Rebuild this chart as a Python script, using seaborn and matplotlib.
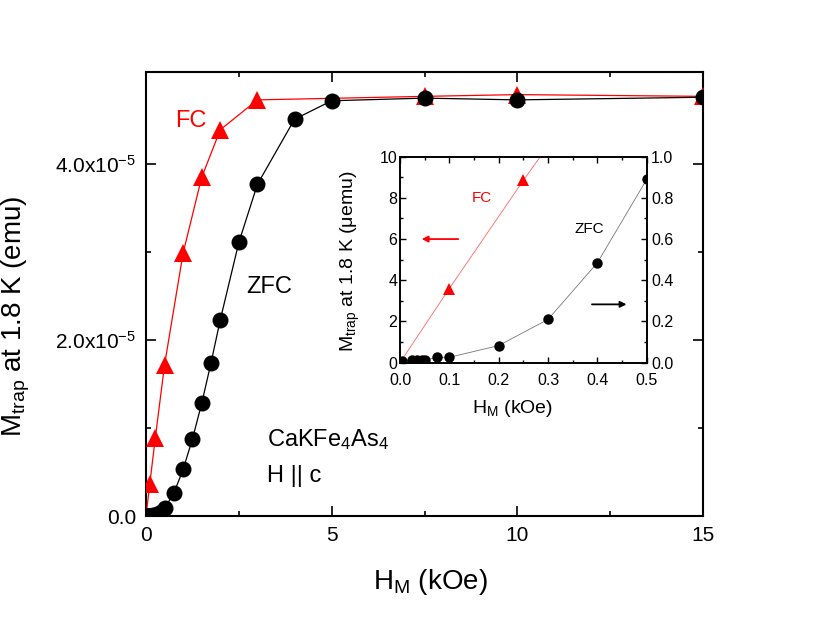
import matplotlib
matplotlib.use("Agg")
import matplotlib.pyplot as plt
import seaborn as sns
import numpy as np
from matplotlib.ticker import MultipleLocator, FixedLocator, FuncFormatter

# ---------------- data (H in kOe, M in micro-emu) ----------------
zfc_h = [0.005, 0.025, 0.035, 0.045, 0.05, 0.075, 0.1, 0.2, 0.3, 0.4, 0.5,
         0.75, 1.0, 1.25, 1.5, 1.75, 2.0, 2.5, 3.0, 4.0, 5.0, 7.5, 10.0, 15.0]
zfc_m_uemu = [0.01, 0.013, 0.013, 0.013, 0.013, 0.026, 0.026, 0.083, 0.21, 0.485, 0.89,
              2.6, 5.3, 8.75, 12.8, 17.4, 22.3, 31.1, 37.7, 45.1, 47.2, 47.5, 47.3, 47.6]
fc_h = [0.0, 0.1, 0.25, 0.5, 1.0, 1.5, 2.0, 3.0, 7.5, 10.0, 15.0]
fc_m_uemu = [0.0, 3.6, 8.85, 17.2, 29.9, 38.5, 43.9, 47.3, 47.7, 47.9, 47.7]

main_yticks = [0.0, 2.0e-5, 4.0e-5]
main_xticks = [0, 5, 10, 15]

zfc_m = [v * 1e-6 for v in zfc_m_uemu]
fc_m = [v * 1e-6 for v in fc_m_uemu]

sns.set_theme(style="ticks")
plt.rcParams["font.family"] = ["Liberation Sans", "DejaVu Sans"]
plt.rcParams["mathtext.fontset"] = "custom"
plt.rcParams["mathtext.rm"] = "Liberation Sans"
plt.rcParams["mathtext.it"] = "Liberation Sans:italic"
plt.rcParams["mathtext.bf"] = "Liberation Sans:bold"
plt.rcParams["axes.linewidth"] = 1.5
for k in ("text.color", "axes.labelcolor", "xtick.color", "ytick.color",
          "xtick.labelcolor", "ytick.labelcolor", "axes.edgecolor"):
    plt.rcParams[k] = "black"

fig = plt.figure(figsize=(8.17, 6.21), dpi=100)
ax = fig.add_axes([0.1787, 0.169, 0.6818, 0.7155])

sns.lineplot(x=fc_h, y=fc_m, ax=ax, color="red", marker="^", markersize=12.5,
             markeredgewidth=0, linewidth=0.9, sort=False, estimator=None, zorder=3)
sns.lineplot(x=zfc_h, y=zfc_m, ax=ax, color="black", marker="o", markersize=11.5,
             markeredgewidth=0, linewidth=0.9, sort=False, estimator=None, zorder=4)

ax.set_xlim(0, 15)
ax.set_ylim(0, 5.05e-5)
ax.xaxis.set_major_locator(FixedLocator(main_xticks))
ax.xaxis.set_minor_locator(MultipleLocator(2.5))
ax.yaxis.set_major_locator(FixedLocator(main_yticks))
ax.yaxis.set_minor_locator(FixedLocator([1.0e-5, 3.0e-5]))

def yfmt(v, pos):
    if abs(v) < 1e-12:
        return "0.0"
    return r"%.1fx10$^{\mathrm{-5}}$" % (v / 1e-5)

ax.yaxis.set_major_formatter(FuncFormatter(yfmt))
ax.tick_params(which="both", direction="in", top=True, right=True, width=1.2,
               labelsize=15, colors="black")
ax.tick_params(which="major", length=7, pad=7)
ax.tick_params(which="minor", length=3.5)
for s in ax.spines.values():
    s.set_linewidth(1.5)
    s.set_color("black")

ax.set_xlabel(r"H$_\mathrm{M}$ (kOe)", fontsize=20, color="black")
ax.set_ylabel(r"M$_\mathrm{trap}$ at 1.8 K (emu)", fontsize=20, color="black")
ax.xaxis.set_label_coords(0.51, -0.115)
ax.yaxis.set_label_coords(-0.205, 0.45)

ax.text(0.78, 4.42e-5, "FC", color="red", fontsize=17, ha="left", va="baseline")
ax.text(2.71, 2.53e-5, "ZFC", color="black", fontsize=17, ha="left", va="baseline")
ax.text(3.25, 7.9e-6, r"CaKFe$_\mathrm{4}$As$_\mathrm{4}$", color="black", fontsize=17,
        ha="left", va="baseline")
ax.text(3.25, 3.9e-6, "H || c", color="black", fontsize=17, ha="left", va="baseline")

# ---------------- inset ----------------
axi = fig.add_axes([0.4896, 0.416, 0.302, 0.3317])
axi.set_facecolor("white")
sns.lineplot(x=fc_h, y=fc_m_uemu, ax=axi, color="#ff6666", marker="^", markersize=8.5,
             markeredgewidth=0, markerfacecolor="red", linewidth=0.6, sort=False, estimator=None)
axi.set_xlim(0, 0.5)
axi.set_ylim(0, 10)

axr = axi.twinx()
sns.lineplot(x=zfc_h, y=zfc_m_uemu, ax=axr, color="#777777", marker="o", markersize=7.5,
             markeredgewidth=0, markerfacecolor="black", linewidth=0.6, sort=False, estimator=None)
axr.set_ylim(0, 1.0)
axr.set_xlim(0, 0.5)

axi.xaxis.set_major_locator(MultipleLocator(0.1))
axi.xaxis.set_minor_locator(MultipleLocator(0.05))
axi.yaxis.set_major_locator(MultipleLocator(2))
axi.yaxis.set_minor_locator(MultipleLocator(1))
axr.yaxis.set_major_locator(MultipleLocator(0.2))
axr.yaxis.set_minor_locator(MultipleLocator(0.1))
axi.xaxis.set_major_formatter(FuncFormatter(lambda v, p: "%.1f" % v))
axi.yaxis.set_major_formatter(FuncFormatter(lambda v, p: "%d" % round(v)))
axr.yaxis.set_major_formatter(FuncFormatter(lambda v, p: "%.1f" % v))

axi.tick_params(which="both", direction="in", top=True, right=False, width=1.0,
                labelsize=11.5, colors="black")
axi.tick_params(axis="x", which="major", length=4, pad=7.5)
axi.tick_params(axis="y", which="major", length=4, pad=2)
axi.tick_params(which="minor", length=2.5)
axr.tick_params(which="both", direction="in", width=1.0, labelsize=11.5, colors="black")
axr.tick_params(which="major", length=4, pad=3)
axr.tick_params(which="minor", length=2.5)
for a in (axi, axr):
    for s in a.spines.values():
        s.set_linewidth(1.2)
        s.set_color("black")

axi.set_xlabel(r"H$_\mathrm{M}$ (kOe)", fontsize=14, color="black")
axi.set_ylabel(r"M$_\mathrm{trap}$ at 1.8 K (μemu)", fontsize=14, color="black")
axi.xaxis.set_label_coords(0.458, -0.17)
axi.yaxis.set_label_coords(-0.155, 0.49)

axi.text(0.145, 7.82, "FC", color="red", fontsize=11, ha="left", va="baseline")
axi.text(0.353, 6.28, "ZFC", color="black", fontsize=11, ha="left", va="baseline")
axr.annotate("", xy=(0.044, 0.60), xytext=(0.118, 0.60),
             arrowprops=dict(arrowstyle="-|>", color="red", lw=1.3, mutation_scale=9,
                             shrinkA=0, shrinkB=0))
axr.annotate("", xy=(0.459, 0.283), xytext=(0.389, 0.283),
             arrowprops=dict(arrowstyle="-|>", color="black", lw=1.3, mutation_scale=9,
                             shrinkA=0, shrinkB=0))

fig.savefig("out.png", dpi=100, facecolor="white")
